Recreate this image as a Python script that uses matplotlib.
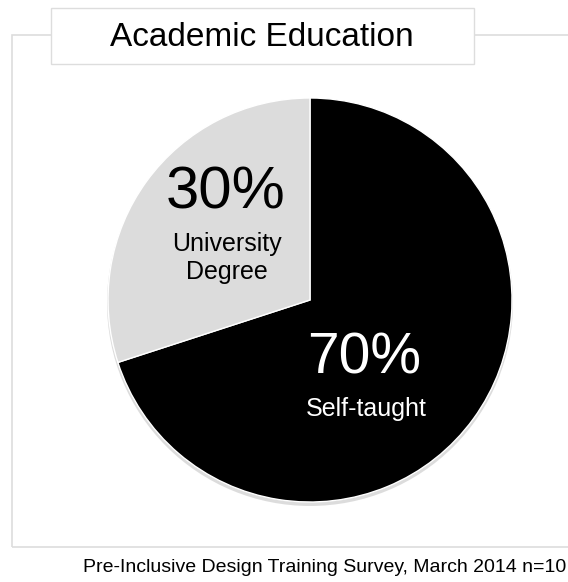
import matplotlib
matplotlib.use("Agg")
import matplotlib.pyplot as plt
from matplotlib.patches import Rectangle, Circle

plt.rcParams['font.family'] = ['Liberation Sans', 'DejaVu Sans']

title = "Academic Education"
categories = ["Self-taught", "University\nDegree"]
values = [70, 30]
pct_labels = ["70%", "30%"]
colors = ["#000000", "#dcdcdc"]
source = "Pre-Inclusive Design Training Survey, March 2014 n=10"

W, H = 568, 582
fig = plt.figure(figsize=(W / 100, H / 100), dpi=100)
ax = fig.add_axes([0, 0, 1, 1])
ax.set_xlim(0, W)
ax.set_ylim(0, H)
ax.set_aspect('equal')
ax.axis('off')

def Y(y):
    return H - y

# outer frame
ax.add_patch(Rectangle((12, Y(547)), 600, 512, fill=False, edgecolor="#dddddd", lw=1.2))

# shadow
ax.add_patch(Circle((310, Y(303)), 203, facecolor="#bbbbbb", edgecolor="none", alpha=0.5))

cx, cy, r = 310, Y(300), 202
wedges, _ = ax.pie(values, colors=colors, startangle=90, counterclock=False,
                   center=(cx, cy), radius=r, frame=True,
                   wedgeprops=dict(edgecolor="white", linewidth=1.0))
ax.set_xlim(0, W)
ax.set_ylim(0, H)
ax.axis('off')

# labels
ax.text(364, Y(358), pct_labels[0], ha='center', va='center', fontsize=41, color='white')
ax.text(366, Y(409), categories[0], ha='center', va='center', fontsize=18, color='white')
ax.text(226, Y(193), pct_labels[1], ha='center', va='center', fontsize=43, color='black')
ax.text(227, Y(258), categories[1], ha='center', va='center', fontsize=18, color='black',
        linespacing=1.2)

# title box
ax.add_patch(Rectangle((51, Y(64)), 423, 56, facecolor="white", edgecolor="#dddddd", lw=1.0, zorder=5))
ax.text(262, Y(38), title, ha='center', va='center', fontsize=24, color='black', zorder=6)

# source
ax.text(566, Y(568), source, ha='right', va='center', fontsize=14, color='black')

fig.savefig("out.png", dpi=100)
